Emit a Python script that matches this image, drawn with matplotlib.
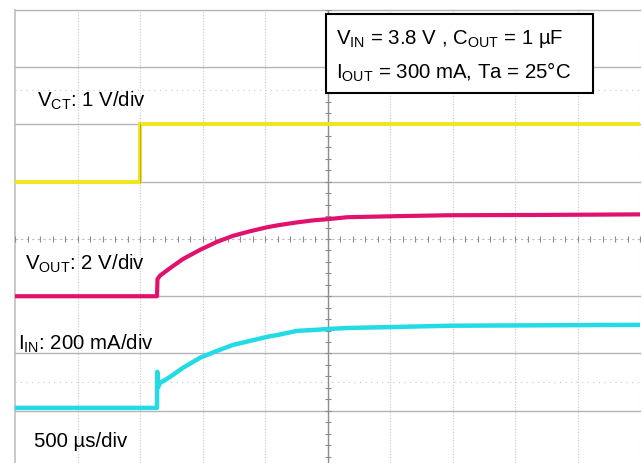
import numpy as np
import matplotlib
matplotlib.use("Agg")
import matplotlib.pyplot as plt
from matplotlib.patches import Rectangle

plt.rcParams['font.family'] = ['Liberation Sans', 'DejaVu Sans']
plt.rcParams['mathtext.fontset'] = 'custom'
plt.rcParams['mathtext.rm'] = 'Liberation Sans'
plt.rcParams['mathtext.it'] = 'Liberation Sans'

# scope settings
time_per_div = 500.0          # us/div
vct_per_div = 1.0             # V/div
vout_per_div = 2.0            # V/div
iin_per_div = 200.0           # mA/div
vct_offset = 5.0              # ground position in divisions from bottom
vout_offset = 3.0
iin_offset = 1.05

# traces
t_vct = [0, 1000, 1000, 5000]                 # us
vct = [0.0, 0.0, 1.0, 1.0]                    # V

t_vout = [0, 1136, 1140, 1160, 1240, 1344, 1480, 1616, 1744, 1880, 2016,
          2104, 2256, 2384, 2520, 2656, 3080, 3480, 4200, 5000]
vout = [0.0, 0.0, 0.60, 0.72, 0.98, 1.30, 1.62, 1.90, 2.11, 2.27, 2.41,
        2.48, 2.58, 2.65, 2.70, 2.76, 2.80, 2.83, 2.84, 2.86]

t_iin = [0, 1136, 1138, 1146, 1160, 1240, 1344, 1480, 1616, 1744, 1880,
         2016, 2104, 2256, 2384, 2520, 2656, 3080, 3480, 5000]
iin = [0, 0, 126, 73, 87, 108, 140, 175, 199, 220, 234,
       248, 255, 269, 272, 276, 279, 283, 287, 290]

W, H = 644, 463
fig = plt.figure(figsize=(W / 100, H / 100), dpi=100)
ax = fig.add_axes([15 / W, 0, 625 / W, 453 / H])
ax.set_xlim(0, 10 * time_per_div)
ax.set_ylim(0.087, 8.0)
ax.axis('off')

grid_col = '#b4b4b4'
# vertical graticule (dotted)
for i in range(11):
    x = i * time_per_div
    if i == 5:
        ax.axvline(x, color='#8c8c8c', lw=1.0, zorder=1)
    elif i == 0:
        ax.axvline(x, color='#c0c0c0', lw=1.2, zorder=1, clip_on=False)
    else:
        ax.axvline(x, color='#c8c8c8', lw=0.8, ls=(0, (1, 1.5)), zorder=1)
# horizontal graticule (solid)
for j in range(9):
    if j == 4:
        ax.axhline(j, color='#bbbbbb', lw=0.8, ls=(0, (2, 3)), zorder=1)
    else:
        ax.axhline(j, color=grid_col, lw=1.0, zorder=1, clip_on=False)
# cursor style dotted lines
for yl in (6.6, 1.5):
    ax.axhline(yl, color='#c8c8c8', lw=0.8, ls=(0, (1, 4)), zorder=1)

# minor ticks on centre lines
tx = np.arange(0, 10 * time_per_div + 1, time_per_div / 5)
ax.plot(tx, np.full_like(tx, 4.0), ls='none', marker='|', ms=4, mew=0.8,
        color='#8c8c8c', zorder=1)
ty = np.arange(0, 8.01, 0.2)
ax.plot(np.full_like(ty, 5 * time_per_div), ty, ls='none', marker='_', ms=4,
        mew=0.8, color='#8c8c8c', zorder=1)

# traces
ax.plot(t_vct, vct_offset + np.array(vct) / vct_per_div,
        color='#f2e51c', lw=2.8, zorder=3, solid_joinstyle='miter')
ax.plot(t_vct[1:3], vct_offset + np.array(vct[1:3]) / vct_per_div,
        color='#b5a840', lw=0.8, zorder=4)
ax.plot(t_vout, vout_offset + np.array(vout) / vout_per_div,
        color='#e0126e', lw=3.0, zorder=3)
ax.plot(t_iin, iin_offset + np.array(iin) / iin_per_div,
        color='#22dbe4', lw=3.2, zorder=3)

# labels
fs = 14.7
fig.text(37 / W, 1 - 107 / H, r'V$_{\mathrm{CT}}$: 1 V/div', fontsize=fs, va='baseline')
fig.text(25 / W, 1 - 270 / H, r'V$_{\mathrm{OUT}}$: 2 V/div', fontsize=fs, va='baseline')
fig.text(18 / W, 1 - 350 / H, r'I$_{\mathrm{IN}}$: 200 mA/div', fontsize=fs, va='baseline')
fig.text(34 / W, 1 - 447 / H, '500 µs/div', fontsize=fs, va='baseline')

# condition box
box = Rectangle((326 / W, 1 - 93 / H), 267 / W, 79 / H, transform=fig.transFigure,
                facecolor='white', edgecolor='black', lw=1.5, zorder=5)
fig.patches.append(box)
fig.text(336 / W, 1 - 44 / H, r'V$_{\mathrm{IN}}$ = 3.8 V , C$_{\mathrm{OUT}}$ = 1 µF',
         fontsize=fs, va='baseline', zorder=6)
fig.text(336 / W, 1 - 79 / H, r'I$_{\mathrm{OUT}}$ = 300 mA, Ta = 25°C',
         fontsize=fs, va='baseline', zorder=6)

fig.savefig('out.png', dpi=100)
